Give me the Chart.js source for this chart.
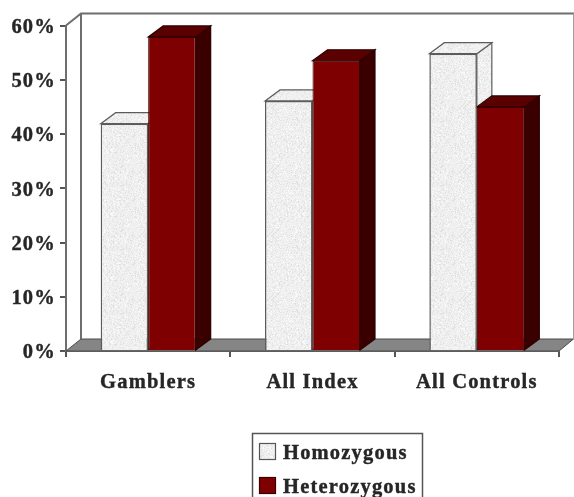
<!DOCTYPE html>
<html>
<head>
<meta charset="utf-8">
<style>
html,body{margin:0;padding:0;background:#fff;overflow:hidden}
#wrap{position:relative;width:574px;height:497px}
canvas{filter:blur(0.45px)}
</style>
<script src="https://cdn.jsdelivr.net/npm/chart.js@4"></script>
</head>
<body>
<div id="wrap"><canvas id="c" width="574" height="497"></canvas></div>
<script>
const categories = ['Gamblers', 'All Index', 'All Controls'];
const homozygous = [41.9, 46.1, 54.8];
const heterozygous = [57.9, 53.5, 45.0];
const seriesNames = ['Homozygous', 'Heterozygous'];

const FONT_SIZE = 20.5;
const SPACING = '1.2px';
const TEXT_COLOR = '#262626';
const DX = 15, BAR_DY = 11, WALL_DY = 12;

function stipple(ctx) {
  const n = 64, p = document.createElement('canvas');
  p.width = p.height = n;
  const g = p.getContext('2d');
  g.fillStyle = '#efefef';
  g.fillRect(0, 0, n, n);
  let s = 12345;
  const next = () => { s = (s * 214013 + 2531011) & 0x7fffffff; return s >> 16; };
  for (let i = 0; i < 1300; i++) {
    const x = next() % n, y = next() % n;
    g.fillStyle = next() % 2 ? '#e0e0e0' : '#fafafa';
    g.fillRect(x, y, 1, 1);
  }
  return ctx.createPattern(p, 'repeat');
}

function poly(ctx, pts, fill, stroke, lw) {
  ctx.beginPath();
  pts.forEach((p, i) => i ? ctx.lineTo(p[0], p[1]) : ctx.moveTo(p[0], p[1]));
  ctx.closePath();
  ctx.fillStyle = fill;
  ctx.fill();
  if (stroke) { ctx.strokeStyle = stroke; ctx.lineWidth = lw || 1; ctx.stroke(); }
}

const canvas = document.getElementById('c');
const ctx0 = canvas.getContext('2d');
const pattern = stipple(ctx0);

const faces = [
  { top: pattern, side: pattern, stroke: '#5c5c5c' },
  { top: '#5a0000', side: '#3a0000', stroke: '#2a0000' }
];

function drawDepth(c, meta, f) {
  meta.data.forEach(b => {
    const l = b.x - b.width / 2, r = b.x + b.width / 2;
    poly(c, [[r, b.y], [r + DX, b.y - BAR_DY], [r + DX, b.base - BAR_DY], [r, b.base]], f.side, f.stroke, 1.2);
    poly(c, [[l, b.y], [l + DX, b.y - BAR_DY], [r + DX, b.y - BAR_DY], [r, b.y]], f.top, f.stroke, 1.2);
  });
}

const depthPlugin = {
  id: 'depth',
  beforeDraw(chart) { chart.ctx.letterSpacing = SPACING; },
  beforeDatasetsDraw(chart) {
    const c = chart.ctx, a = chart.chartArea;
    c.save();
    poly(c, [[a.left, a.bottom], [a.left + DX, a.bottom - WALL_DY], [a.right + DX - 0.5, a.bottom - WALL_DY], [a.right, a.bottom]], '#858585', '#4a4a4a', 1);
    c.strokeStyle = '#6e6e6e';
    c.lineWidth = 2;
    c.beginPath();
    c.moveTo(a.left, a.top);
    c.lineTo(a.left + DX, a.top - WALL_DY);
    c.lineTo(a.right + DX, a.top - WALL_DY);
    c.moveTo(a.left + DX, a.top - WALL_DY);
    c.lineTo(a.left + DX, a.bottom - WALL_DY);
    c.stroke();
    c.lineWidth = 1;
    c.strokeStyle = '#a0a0a0';
    c.beginPath();
    c.moveTo(a.right + DX - 0.5, a.top - WALL_DY);
    c.lineTo(a.right + DX - 0.5, a.bottom - WALL_DY);
    c.stroke();
    c.restore();
  },
  beforeDatasetDraw(chart, args) {
    // Datasets paint last to first, so the red series comes first; the pale
    // series' depth faces belong behind it and are painted just before it.
    if (args.index !== 1) return;
    const c = chart.ctx;
    c.save();
    drawDepth(c, chart.getDatasetMeta(0), faces[0]);
    drawDepth(c, args.meta, faces[1]);
    c.restore();
  },
  afterDraw(chart) {
    const c = chart.ctx;
    c.save();
    c.strokeStyle = '#555555';
    c.lineWidth = 1.5;
    c.strokeRect(252.5, 433.5, 170, 70);
    c.font = 'bold ' + FONT_SIZE + 'px "Liberation Serif"';
    c.textBaseline = 'alphabetic';
    c.textAlign = 'left';
    c.letterSpacing = SPACING;
    const rows = [459, 493];
    seriesNames.forEach((name, i) => {
      const y = rows[i];
      c.fillStyle = i ? '#7f0000' : pattern;
      c.fillRect(259.5, y - 15.5, 16, 16);
      c.lineWidth = 1.2;
      c.strokeStyle = i ? '#3a0000' : '#555555';
      c.strokeRect(259.5, y - 15.5, 16, 16);
      c.fillStyle = TEXT_COLOR;
      c.strokeStyle = TEXT_COLOR;
      c.lineWidth = 0.4;
      c.fillText(name, 283, y);
      c.strokeText(name, 283, y);
    });
    c.restore();
  }
};

const tickFont = { family: 'Liberation Serif', size: FONT_SIZE, weight: 'bold' };

new Chart(canvas, {
  type: 'bar',
  data: {
    labels: categories,
    datasets: [
      { label: seriesNames[0], data: homozygous, backgroundColor: pattern, borderColor: '#5c5c5c', borderWidth: 1.5, categoryPercentage: 0.578, barPercentage: 1 },
      { label: seriesNames[1], data: heterozygous, backgroundColor: '#7f0000', borderColor: '#3a0000', borderWidth: 1, categoryPercentage: 0.578, barPercentage: 1 }
    ]
  },
  plugins: [depthPlugin],
  options: {
    responsive: false,
    animation: false,
    events: [],
    layout: { padding: { top: 25.5, right: 15, bottom: 0, left: 0 } },
    plugins: { legend: { display: false }, tooltip: { enabled: false }, title: { display: false } },
    scales: {
      x: {
        afterFit(s) { s.height = 146; },
        grid: { drawOnChartArea: false, drawTicks: true, tickLength: 6, color: '#555555', lineWidth: 2, offset: true },
        border: { color: '#6e6e6e', width: 2 },
        ticks: { color: TEXT_COLOR, font: tickFont, padding: 13, maxRotation: 0, textStrokeColor: TEXT_COLOR, textStrokeWidth: 0.4 }
      },
      y: {
        min: 0, max: 60,
        afterFit(s) { s.width = 66; },
        grid: { drawOnChartArea: false, drawTicks: true, tickLength: 6, color: '#555555', lineWidth: 2 },
        border: { color: '#6e6e6e', width: 2 },
        ticks: { stepSize: 10, color: TEXT_COLOR, font: tickFont, padding: 4, labelOffset: 2, textStrokeColor: TEXT_COLOR, textStrokeWidth: 0.4, callback: v => v + '%' }
      }
    }
  }
});
</script>
</body>
</html>
